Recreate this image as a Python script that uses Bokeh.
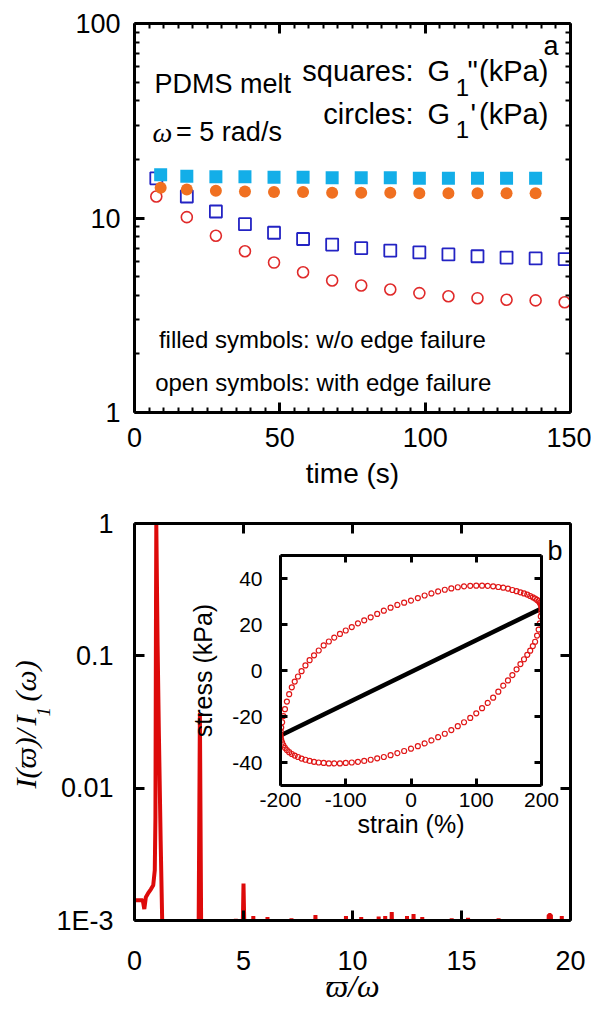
import math

from bokeh.plotting import figure
from bokeh.layouts import column
from bokeh.models import (Range1d, FixedTicker, LinearAxis, LogAxis, Label, InlineStyleSheet,
                          CustomJSTickFormatter)
from bokeh.embed import file_html
from bokeh.resources import INLINE

# ---------------- panel a: first-harmonic moduli vs time ----------------
time_filled = [9, 18, 28, 38, 48, 58, 68, 78, 88, 98, 108, 118, 128, 138]
g2_filled = [16.7, 16.4, 16.3, 16.3, 16.2, 16.2, 16.1, 16.1, 16.1, 16.0, 16.0, 16.0, 16.0, 16.0]
g1_filled = [14.3, 14.0, 13.8, 13.7, 13.6, 13.6, 13.5, 13.5, 13.5, 13.4, 13.4, 13.4, 13.4, 13.4]

time_open = [7.5, 18, 28, 38, 48, 58, 68, 78, 88, 98, 108, 118, 128, 138, 148]
g2_open = [16.0, 12.9, 10.8, 9.3, 8.4, 7.8, 7.3, 7.0, 6.8, 6.65, 6.5, 6.36, 6.26, 6.2, 6.15]
g1_open = [12.9, 10.1, 8.1, 6.75, 5.9, 5.26, 4.77, 4.5, 4.29, 4.11, 3.96, 3.87, 3.8, 3.77, 3.69]

time_ticks = [0, 50, 100, 150]
time_minor = [t for t in range(5, 150, 5)]
mod_ticks = [1, 10, 100]
mod_minor = [m * d for d in (1, 10) for m in range(2, 10)]
mod_labels = ["1", "10", "100"]

# ---------------- panel b: Fourier spectrum ----------------
spec_ratio = [0.00, 0.38, 0.45, 0.52, 0.62, 0.75, 0.86, 0.93, 0.96, 0.985, 1.00, 1.06, 1.12, 1.20, 1.27, 1.32,
              2.93, 3.00, 3.07,
              4.60, 4.65, 4.70, 4.93, 5.00, 5.08, 5.40, 5.45, 5.50, 6.05, 6.10, 6.15, 7.15, 7.20, 7.25,
              8.25, 8.30, 8.35, 9.65, 9.70, 9.75, 10.35, 10.40, 10.45, 11.15, 11.20, 11.25,
              11.45, 11.50, 11.55, 11.75, 11.80, 11.85, 12.45, 12.50, 12.55, 12.75, 12.80, 12.85,
              13.15, 13.20, 13.25, 14.50, 14.55, 14.60, 15.25, 15.30, 15.35, 16.65, 16.70, 16.75,
              18.95, 19.00, 19.10, 19.15, 19.55, 19.60, 19.65, 20.00]
spec_intensity = [1.42e-3, 1.42e-3, 1.22e-3, 1.5e-3, 1.6e-3, 1.72e-3, 1.85e-3, 2.4e-3, 6e-3, 0.2, 1.0, 0.12, 0.025, 4e-3, 1e-3, 4e-4,
                  4e-4, 0.037, 4e-4,
                  4e-4, 1.03e-3, 4e-4, 4e-4, 1.9e-3, 4e-4, 4e-4, 1.08e-3, 4e-4, 4e-4, 1.06e-3, 4e-4, 4e-4, 1.04e-3, 4e-4,
                  4e-4, 1.1e-3, 4e-4, 4e-4, 1.08e-3, 4e-4, 4e-4, 1.06e-3, 4e-4, 4e-4, 1.07e-3, 4e-4,
                  4e-4, 1.08e-3, 4e-4, 4e-4, 1.16e-3, 4e-4, 4e-4, 1.08e-3, 4e-4, 4e-4, 1.12e-3, 4e-4,
                  4e-4, 1.06e-3, 4e-4, 4e-4, 1.04e-3, 4e-4, 4e-4, 1.05e-3, 4e-4, 4e-4, 1.04e-3, 4e-4,
                  4e-4, 1.1e-3, 1.1e-3, 4e-4, 4e-4, 1.08e-3, 4e-4, 4e-4]

ratio_ticks = [0, 5, 10, 15, 20]
inten_ticks = [0.001, 0.01, 0.1, 1]
inten_labels = ["1E-3", "0.01", "0.1", "1"]

# ---------------- inset: Lissajous loop ----------------
strain_up = [-200, -199.7, -198.9, -197.5, -195.6, -193.2, -190.2, -186.7, -182.7, -178.2,
             -173.2, -167.7, -161.8, -155.4, -148.6, -141.4, -133.8, -125.9, -117.6, -108.9,
             -100, -90.8, -81.3, -71.7, -61.8, -51.8, -41.6, -31.3, -20.9, -10.5,
             0, 10.5, 20.9, 31.3, 41.6, 51.8, 61.8, 71.7, 81.3, 90.8,
             100, 108.9, 117.6, 125.9, 133.8, 141.4, 148.6, 155.4, 161.8, 167.7,
             173.2, 178.2, 182.7, 186.7, 190.2, 193.2, 195.6, 197.5, 198.9, 199.7]
stress_up = [-28.3, -26.5, -24.8, -22.5, -19.8, -16.8, -13.5, -10.3, -7.3, -4.8,
             -2.6, -0.3, 2.2, 4.5, 6.6, 8.7, 10.9, 12.6, 14.3, 15.9,
             17.4, 18.9, 20.5, 21.8, 23.1, 24.6, 26.0, 27.3, 28.5, 29.5,
             30.4, 31.5, 32.6, 33.5, 34.4, 35.1, 35.7, 36.2, 36.6, 36.8,
             36.9, 36.9, 36.8, 36.6, 36.3, 36.0, 35.6, 35.0, 34.5, 34.0,
             33.5, 33.0, 32.4, 31.8, 31.3, 30.7, 30.1, 29.4, 28.7, 27.9]
strain_down = [200, 199.7, 198.9, 197.5, 195.6, 193.2, 190.2, 186.7, 182.7, 178.2,
               173.2, 167.7, 161.8, 155.4, 148.6, 141.4, 133.8, 125.9, 117.6, 108.9,
               100, 90.8, 81.3, 71.7, 61.8, 51.8, 41.6, 31.3, 20.9, 10.5,
               0, -10.5, -20.9, -31.3, -41.6, -51.8, -61.8, -71.7, -81.3, -90.8,
               -100, -108.9, -117.6, -125.9, -133.8, -141.4, -148.6, -155.4, -161.8, -167.7,
               -173.2, -178.2, -182.7, -186.7, -190.2, -193.2, -195.6, -197.5, -198.9, -199.7]
stress_down = [27.0, 25.5, 23.5, 20.5, 17.8, 15.2, 12.5, 10.6, 8.6, 6.8,
               4.9, 2.8, 0.5, -2.0, -4.3, -6.6, -9.2, -11.8, -14.1, -16.4,
               -18.6, -20.6, -22.5, -24.2, -25.9, -27.5, -29.0, -30.4, -31.7, -32.9,
               -34.0, -35.0, -35.9, -36.8, -37.6, -38.2, -38.8, -39.3, -39.7, -40.0,
               -40.2, -40.4, -40.4, -40.4, -40.2, -40.0, -39.7, -39.3, -38.8, -38.3,
               -37.6, -37.0, -36.3, -35.5, -34.6, -33.6, -32.5, -31.3, -30.1, -29.0]
elastic_strain = [-200, 200]
elastic_stress = [-28.3, 27.0]

strain_ticks = [-200, -100, 0, 100, 200]
stress_ticks = [-40, -20, 0, 20, 40]

SANS = "Liberation Sans"
SERIF = "Liberation Serif"


def style_axis(ax, size, standoff, tick_in=10, minor_in=5, width=3):
    ax.axis_line_width = width
    ax.axis_line_color = "black"
    ax.major_tick_in = tick_in
    ax.major_tick_out = 0
    ax.major_tick_line_width = width
    ax.major_tick_line_color = "black"
    ax.minor_tick_in = minor_in
    ax.minor_tick_out = 0
    ax.minor_tick_line_width = 2
    ax.minor_tick_line_color = "black"
    ax.major_label_text_font = SANS
    ax.major_label_text_font_size = f"{size}px"
    ax.major_label_text_color = "black"
    ax.major_label_standoff = standoff
    ax.axis_label_text_font = SANS
    ax.axis_label_text_font_style = "normal"
    ax.axis_label_text_color = "black"


def mirror_axis(cls, ticker, tick_in=10, minor_in=5):
    # tick-only axis on the opposite side of the frame
    ax = cls(ticker=ticker, formatter=CustomJSTickFormatter(code="return ''"))
    style_axis(ax, 10, 0, tick_in=tick_in, minor_in=minor_in)
    return ax


def note(p, x, y, text, size, align="left", font=SANS, style="normal", angle=0.0):
    p.add_layout(Label(x=x, y=y, text=text, text_font=font, text_font_size=f"{size}px",
                       text_font_style=style, text_align=align, text_baseline="alphabetic",
                       text_color="black", angle=angle))


def base_fig(**kw):
    p = figure(output_backend="svg", toolbar_location=None, background_fill_color="white",
               border_fill_color="white", **kw)
    p.xgrid.visible = False
    p.ygrid.visible = False
    p.outline_line_color = None
    return p


def pinned(p, left, top):
    p.stylesheets = [InlineStyleSheet(
        css=f":host {{ position: absolute !important; left: {left}px !important; top: {top}px !important; }}")]


# ======== panel a ========
pa = base_fig(width=591, height=500, x_range=Range1d(0, 150), y_range=Range1d(1, 100),
              y_axis_type="log", min_border_left=134, min_border_right=21,
              min_border_top=23, min_border_bottom=88)

t_ticker = FixedTicker(ticks=time_ticks, minor_ticks=time_minor)
m_ticker = FixedTicker(ticks=mod_ticks, minor_ticks=mod_minor)

xa = pa.xaxis[0]
xa.ticker = t_ticker
style_axis(xa, 27, 15)
xa.axis_label = "time (s)"
xa.axis_label_text_font_size = "28px"
xa.axis_label_standoff = 8

ya = pa.yaxis[0]
ya.ticker = m_ticker
ya.major_label_overrides = {v: s for v, s in zip(mod_ticks, mod_labels)}
style_axis(ya, 27, 14)

pa.add_layout(mirror_axis(LinearAxis, t_ticker), "above")
pa.add_layout(mirror_axis(LogAxis, m_ticker), "right")

pa.scatter(time_open, g2_open, marker="square", size=12, fill_color=None,
           line_color="#2323c3", line_width=1.8)
pa.scatter(time_open, g1_open, marker="circle", size=11, fill_color=None,
           line_color="#e02a2a", line_width=1.6)
pa.scatter(time_filled, g2_filled, marker="square", size=13, fill_color="#13aee8", line_color=None)
pa.scatter(time_filled, g1_filled, marker="circle", size=12, fill_color="#f07021", line_color=None)

note(pa, 6.9, 49.1, "PDMS melt", 27)
note(pa, 6.2, 27.6, "ω", 28, font=SERIF, style="italic")
note(pa, 14.3, 27.6, "= 5 rad/s", 27)
note(pa, 96.0, 57.2, "squares:", 29, align="right")
note(pa, 100.8, 57.2, "G", 29)
note(pa, 110.5, 46.9, "1", 24)
note(pa, 114.6, 57.2, "\"", 29)
note(pa, 142.4, 57.2, "(kPa)", 29, align="right")
note(pa, 96.0, 34.2, "circles:", 29, align="right")
note(pa, 100.8, 34.2, "G", 29)
note(pa, 110.5, 28.5, "1", 24)
note(pa, 115.6, 34.2, "'", 29)
note(pa, 142.4, 34.2, "(kPa)", 29, align="right")
note(pa, 145.9, 76.8, "a", 27, align="right")
note(pa, 8.4, 2.37, "filled symbols: w/o edge failure", 24)
note(pa, 7.1, 1.42, "open symbols: with edge failure", 24)

# ======== panel b ========
pb = base_fig(width=591, height=509, x_range=Range1d(0, 20), y_range=Range1d(0.001, 1),
              y_axis_type="log", min_border_left=133, min_border_right=20,
              min_border_top=23, min_border_bottom=89)

r_ticker = FixedTicker(ticks=ratio_ticks, minor_ticks=[])
i_ticker = FixedTicker(ticks=inten_ticks, minor_ticks=[])

xb = pb.xaxis[0]
xb.ticker = r_ticker
style_axis(xb, 27, 30)
xb.axis_label = "ϖ/ω"
xb.axis_label_text_font = SERIF
xb.axis_label_text_font_style = "italic"
xb.axis_label_text_font_size = "32px"
xb.axis_label_standoff = -5

yb = pb.yaxis[0]
yb.ticker = i_ticker
yb.major_label_overrides = {v: s for v, s in zip(inten_ticks, inten_labels)}
style_axis(yb, 27, 21)

pb.add_layout(mirror_axis(LinearAxis, r_ticker), "above")
pb.add_layout(mirror_axis(LogAxis, i_ticker), "right")

pb.line(spec_ratio, spec_intensity, line_color="#dd0a0a", line_width=4)
note(pb, 19.63, 0.624, "b", 27, align="right")

page = column(pa, pb)

# ======== vertical title of panel b (pieces, so the subscript sits low) ========
# a bare canvas whose data units are page pixels
pt = figure(width=60, height=180, x_range=Range1d(0, 60), y_range=Range1d(810, 630),
            output_backend="svg", toolbar_location=None, title=None,
            x_axis_location=None, y_axis_location=None, min_border=0,
            background_fill_color=None, border_fill_color=None)
pt.xgrid.visible = False
pt.ygrid.visible = False
pt.outline_line_color = None
up = math.pi / 2
note(pt, 25, 788, "I(ϖ)", 30, font=SERIF, style="italic", angle=up)
note(pt, 25, 737, "/", 30, font=SERIF, style="italic", angle=up)
note(pt, 25, 725, "I", 30, font=SERIF, style="italic", angle=up)
note(pt, 43, 716, "1", 19, font=SERIF, style="italic", angle=up)
note(pt, 25, 701, "(ω)", 30, font=SERIF, style="italic", angle=up)
pinned(pt, 0, 630)

# ======== inset: stress-strain loop, its own root laid over panel b ========
pc = figure(width=591, height=509, x_range=Range1d(-200, 200), y_range=Range1d(-50, 50),
            output_backend="svg", toolbar_location=None, background_fill_color="white",
            border_fill_color=None, min_border_left=280, min_border_right=50,
            min_border_top=55, min_border_bottom=224)
pc.xgrid.visible = False
pc.ygrid.visible = False
pc.outline_line_color = None

s_ticker = FixedTicker(ticks=strain_ticks, minor_ticks=[])
st_ticker = FixedTicker(ticks=stress_ticks, minor_ticks=[])

xc = pc.xaxis[0]
xc.ticker = s_ticker
xc.major_label_overrides = {v: str(v) for v in strain_ticks}
style_axis(xc, 21, 7, tick_in=7)
xc.axis_label = "strain (%)"
xc.axis_label_text_font_size = "25px"
xc.axis_label_standoff = 0

yc = pc.yaxis[0]
yc.ticker = st_ticker
yc.major_label_overrides = {v: str(v) for v in stress_ticks}
style_axis(yc, 21, 18, tick_in=7)
yc.axis_label = "stress (kPa)"
yc.axis_label_text_font_size = "25px"
yc.axis_label_standoff = 12

pc.add_layout(mirror_axis(LinearAxis, s_ticker, tick_in=7), "above")
pc.add_layout(mirror_axis(LinearAxis, st_ticker, tick_in=7), "right")

pc.line(elastic_strain, elastic_stress, line_color="black", line_width=4.5)
pc.scatter(strain_up, stress_up, marker="circle", size=5, fill_color=None,
           line_color="#e01616", line_width=1.2)
pc.scatter(strain_down, stress_down, marker="circle", size=5, fill_color=None,
           line_color="#e01616", line_width=1.2)
pinned(pc, 0, 500)

p = [page, pc, pt]
open("out.html", "w").write(file_html(p, INLINE))
